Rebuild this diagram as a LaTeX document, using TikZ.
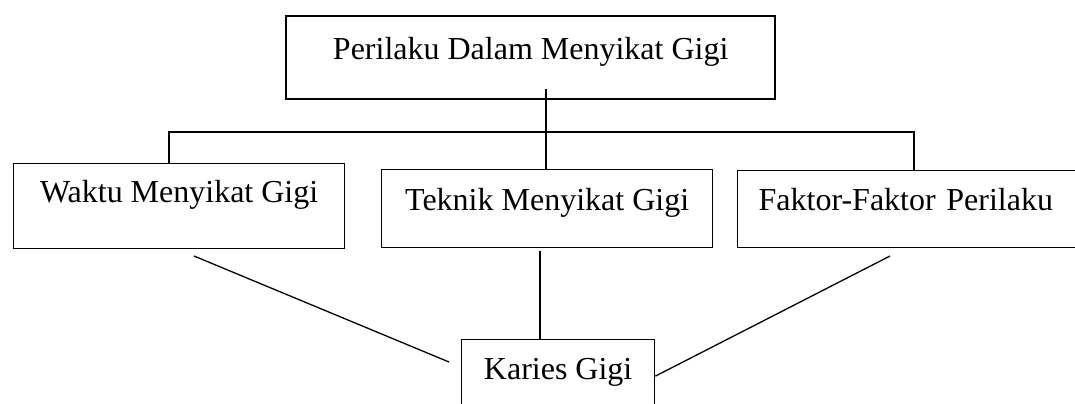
\documentclass[tikz,border=0pt]{standalone}
\usepackage{fontspec}
\setmainfont{Liberation Serif}
\usetikzlibrary{positioning}
\def\boxlw{0.65pt}
\def\headlw{1.2pt}
\def\subwid{165.5pt}

\begin{document}
\begin{tikzpicture}[
            x=0.5pt, y=-0.5pt,
            every node/.style={font=\fontsize{16}{19}\selectfont},
            headbox/.style={%
                rectangle, anchor=north west, line width=\headlw,%
                inner xsep=0pt, inner ysep=0pt,%
                text centered, draw=black, fill=white%
            },
            subbox/.style={%
                rectangle, anchor=north west, line width=\boxlw,%
                inner xsep=0pt, inner ysep=0pt,%
                text centered, draw=black, fill=white%
            },
            link/.style={line width=\boxlw}
        ]

        \clip (0,0) rectangle (1075,403);

        % Define nodes
        \node (perilaku) [headbox, minimum width=244.5pt,
            text height=21.5pt, text depth=20pt] at (285,15) {%
            Perilaku Dalam Menyikat Gigi
        };
        \node (waktu) [subbox, minimum width=\subwid,
            text height=19.5pt, text depth=23pt] at (13,163) {%
            Waktu Menyikat Gigi
        };
        \node (teknik) [subbox, minimum width=\subwid,
            text height=20.5pt, text depth=18.5pt] at (381,169) {%
            Teknik Menyikat Gigi
        };
        \node (faktor) [subbox, inner xsep=10.5pt, text width=151.5pt, align=left,
            text height=20pt, text depth=18.5pt] at (737,170) {%
            Faktor-Faktor Perilaku
        };
        \node (karies) [subbox, minimum width=96.5pt,
            text height=20pt, text depth=20.5pt] at (461,339) {%
            Karies Gigi
        };

        \coordinate (trunk) at (546,89);
        \coordinate (branchL) at (169,132);
        \coordinate (branchR) at (914,132);
        \coordinate (stem) at (540,251);
        \coordinate (diagL) at (194,256);
        \coordinate (diagL_end) at (449,362);
        \coordinate (diagR) at (890,256);

        \draw [link] (trunk) -- (trunk |- teknik.north);
        \draw [link]
            (waktu.north -| branchL) -- (branchL) --
            (branchR) -- (faktor.north -| branchR);

        \draw [link] (stem) -- (stem |- karies.north);
        \draw [link] (diagL) -- (diagL_end);
        \draw [link] (diagR) -- ([yshift=2pt]karies.east);

        \end{tikzpicture}
\end{document}
